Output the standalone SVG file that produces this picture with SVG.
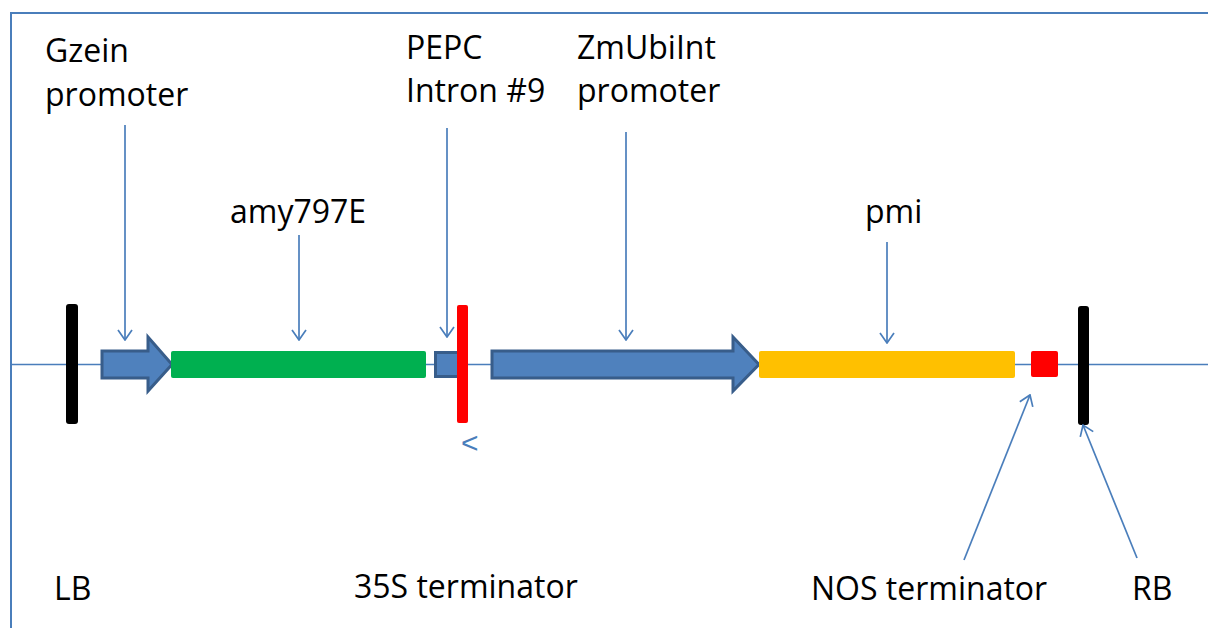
<svg xmlns="http://www.w3.org/2000/svg" width="1208" height="628" viewBox="0 0 1208 628">
  <style>
    .lbl { font-family: "Open Sans", "Noto Sans", "Liberation Sans", sans-serif; font-size: 32px; fill: #000; }
    .frame { stroke: #4a7ebb; stroke-width: 2; fill: none; }
    .axis { stroke: #4a7ebb; stroke-width: 1.5; fill: none; }
    .conn { stroke: #4a7ebb; stroke-width: 1.7; fill: none; marker-end: url(#open); }
    .prom { fill: #4f81bd; stroke: #385d8a; stroke-width: 3; stroke-linejoin: miter; }
    .border { fill: #000; }
  </style>
  <defs>
    <marker id="open" viewBox="0 0 12 16" refX="11" refY="8" markerWidth="12" markerHeight="16" markerUnits="userSpaceOnUse" orient="auto">
      <polyline points="1,1 11,8 1,15" fill="none" stroke="#4a7ebb" stroke-width="1.7"/>
    </marker>
  </defs>

  <rect width="1208" height="628" fill="#fff"/>

  <!-- frame and DNA backbone -->
  <g id="frame">
    <polyline class="frame" points="11,628 11,13 1208,13"/>
    <line class="axis" x1="11" y1="364.5" x2="1208" y2="364.5"/>
  </g>

  <!-- left border -->
  <g id="LB">
    <rect class="border" x="66" y="304" width="12" height="120" rx="3"/>
    <text class="lbl" x="54" y="600">LB</text>
  </g>

  <!-- Gzein promoter -->
  <g id="gzein">
    <path class="prom" d="M102,351 H148 V337 L172,364.5 L148,391 V378 H102 Z"/>
    <text class="lbl" x="45" y="62">Gzein</text>
    <text class="lbl" x="45" y="106">promoter</text>
  </g>

  <!-- amy797E coding region -->
  <g id="amy797E">
    <rect x="171" y="351" width="255" height="27" rx="2" fill="#00b050"/>
    <text class="lbl" x="230" y="223">amy797E</text>
  </g>

  <!-- PEPC intron #9 -->
  <g id="pepc">
    <rect class="prom" x="435.5" y="352.5" width="25" height="24"/>
    <text class="lbl" x="406" y="59">PEPC</text>
    <text class="lbl" x="406" y="102">Intron #9</text>
  </g>

  <!-- 35S terminator -->
  <g id="t35s">
    <rect x="457" y="305" width="11" height="118" rx="2" fill="#ff0000"/>
    <text x="461" y="453" font-family="Liberation Sans, sans-serif" font-size="30" fill="#4a7ebb">&lt;</text>
    <text class="lbl" x="354" y="598">35S terminator</text>
  </g>

  <!-- ZmUbiInt promoter -->
  <g id="zmubi">
    <path class="prom" d="M492,351 H733 V337 L759,364.5 L733,391 V378 H492 Z"/>
    <text class="lbl" x="577" y="59">ZmUbiInt</text>
    <text class="lbl" x="577" y="102">promoter</text>
  </g>

  <!-- pmi coding region -->
  <g id="pmi">
    <rect x="759" y="351" width="256" height="27" rx="2" fill="#ffc000"/>
    <text class="lbl" x="865" y="223">pmi</text>
  </g>

  <!-- NOS terminator -->
  <g id="nos">
    <rect x="1031" y="351" width="27" height="26" rx="2" fill="#ff0000"/>
    <text class="lbl" x="811" y="600">NOS terminator</text>
  </g>

  <!-- right border -->
  <g id="RB">
    <rect class="border" x="1078" y="306" width="11" height="119" rx="3"/>
    <text class="lbl" x="1132" y="600">RB</text>
  </g>

  <!-- label pointers -->
  <g id="connectors">
    <line class="conn" x1="125" y1="125" x2="125" y2="340"/>
    <line class="conn" x1="299" y1="235" x2="299" y2="340"/>
    <line class="conn" x1="447" y1="128" x2="447" y2="337"/>
    <line class="conn" x1="626" y1="132" x2="626" y2="340"/>
    <line class="conn" x1="887" y1="242" x2="887" y2="343"/>
    <line class="conn" x1="964" y1="560" x2="1030" y2="395"/>
    <line class="conn" x1="1137" y1="558" x2="1083" y2="425"/>
  </g>
</svg>
